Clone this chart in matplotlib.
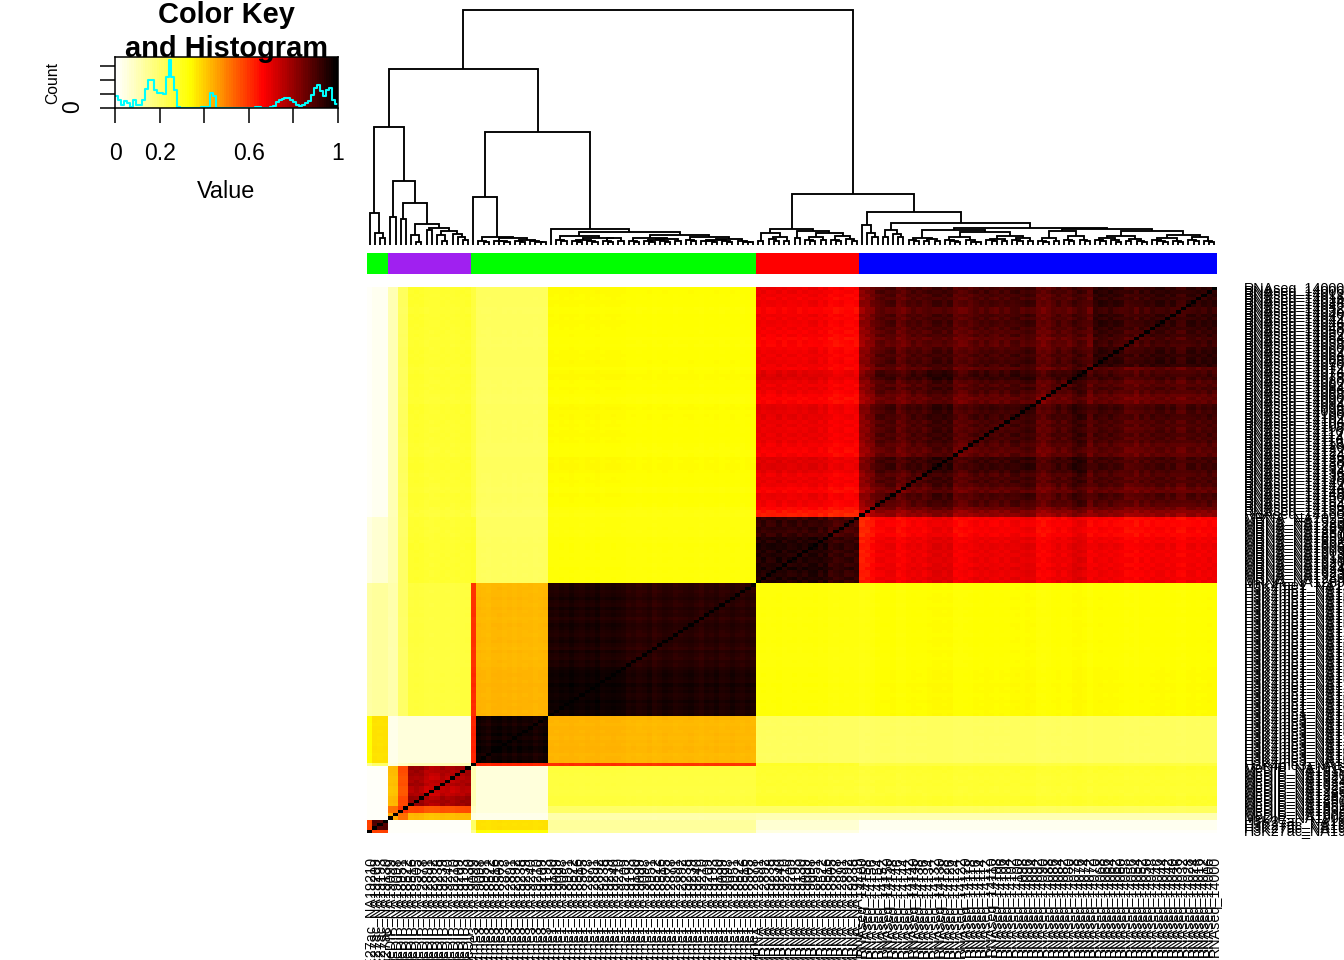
import numpy as np
import matplotlib
matplotlib.use("Agg")
import matplotlib.pyplot as plt
from matplotlib.colors import LinearSegmentedColormap, ListedColormap

plt.rcParams['font.family'] = ['Liberation Sans', 'DejaVu Sans']
W, H = 1344, 960

# ---------------- data ----------------
segment_sizes = [1, 3, 2, 2, 12, 1, 14, 40, 20, 69]
# similarity level of each pair of sample segments
levels = [
    [1.00, .58, .01, .01, .01, .15, .33, .12, .04, .01],
    [.58, .88, .01, .01, .01, .20, .37, .13, .06, .02],
    [.01, .01, .45, .52, .42, .04, .03, .11, .10, .10],
    [.01, .01, .52, .60, .56, .08, .05, .20, .20, .21],
    [.01, .01, .42, .56, .76, .10, .05, .25, .27, .27],
    [.15, .20, .04, .08, .10, 1.0, .62, .60, .28, .25],
    [.33, .37, .03, .05, .05, .62, .97, .425, .21, .21],
    [.12, .13, .11, .20, .25, .60, .425, .94, .32, .33],
    [.04, .06, .10, .20, .27, .28, .21, .32, .92, .675],
    [.01, .02, .10, .21, .27, .25, .21, .33, .675, .885],
]
tint_A = [0, .01, 0, .01]
tint_B = [-.01, 0, 0, 0, .03, .04, .03, -.02, -.03, -.02, .01, 0, -.01, .01, .02, .03]
tint_C = [0]
tint_D = [.01, 0, -.01, .01, .015, 0, .01, -.005, .01, 0, .005, -.01, 0, .01]
tint_E = [.02, .015, .025, .02, .03, .02, .015, .025, .02, .03, .015, .02, .025, .02, .015,
          .0, .005, -.005, .0, .01, -.01, .0, .01, .005, -.005, .0, .005, .01, .0, -.01,
          .005, .0, .01, -.005, .0, .01, .0, -.005, .005, .0]
tint_F = [.01, .015, .005, .01, .02, .005, .01, .015, .005, .01, .015, .02, .005, .01,
          -.02, -.025, -.01, -.02, -.015, -.02]
tint_G = [-.10, -.08, -.05, -.01, 0, 0, .01, -.03, -.03, 0, .01, .005, 0, .02, .03, .03, .025, .03,
          -.02, -.025, -.015, -.01, .01, .005, .015, .01, 0, .01, .005, .02, .025, .015, .03, .02,
          -.03, -.035, -.025, 0, .01, -.005, 0, .03, .035, .02, -.02,
          .025, .03, .02, .025, .02, .01, -.01, 0, -.015, .01, .005, .015,
          .02, .025, .015, .02, 0, -.005, .02, .025, .015, .02, .03, .025]
block_AB = [0] * 20
block_CD = [0] * 15
block_E = [.3] * 40
block_F = [1, 1, .9, 1, 1.1, 1, .9, 1, 1.1, 1, 1, .9, 1, 1.1, 1, 1, .9, 1, 1.1, 1]
block_G = [.5, .4, .5, .6, .5, .5, .4, .5, .6, .5, .5, .5, .4, .9, .9, .9, .9, .9,
           .5, .4, .5, .6, .5, .5, .4, .5, .6, .5, .5, .5, .4, .6, .5, .5, .4, .5,
           .6, .5, .5, .5, 1.0, 1.0, 1.0, 1.0, .5,
           -1, -1, -1, -1, -.9, -1, -1, -1.1, -1, -1, -1, -1, -1.1, -1, -1, -.9, -1, -1, -1, -1, -1.1, -1, -1, -1]
grain_AB = [0, 0, 0, 0, 0, 0, 0, 0, 1, -1, 1, 1, -1, -1, 1, -1, 1, 1, -1, 1]
grain_CDE = [0] * 55
grain_F = [1, -1, 1, 1, -1, 1, -1, -1, 1, -1, 1, 1, -1, 1, -1, 1, 1, -1, -1, 1]
grain_G = [1, -1, 1, -1, -1, 1, 1, -1, 1, 1, -1, 1, -1, -1, 1, 1, -1, 1, -1, 1, 1, -1, -1, 1, -1, 1, 1, -1, 1,
           -1, -1, 1, 1, 1, -1, 1, -1, -1, 1, -1, 1, 1, -1, -1, 1, -1, 1, 1, -1, 1, 1, -1, -1, 1, -1, 1, -1, 1, 1,
           -1, 1, -1, -1, 1, 1, -1, 1, -1, 1]

side_sizes = [4, 16, 55, 20, 69]
side_colors = ['#00FF00', '#A020F0', '#00FF00', '#FF0000', '#0000FF']

individuals = ['NA19210', 'NA19209', 'NA19193', 'NA19130', 'NA19099', 'NA19098', 'NA18951', 'NA18522',
               'NA18516', 'NA18505', 'NA12878', 'NA12891', 'NA12892', 'NA19238', 'NA19239', 'NA19240']
prefixes = ['H3K27ac', 'MeDIP', 'H3K4me3', 'H3K4me1', 'MRNA']
prefix_counts = [4, 16, 15, 40, 20]
rnaseq_ids = [14160, 14158, 14156, 14154, 14152, 14150, 14148, 14146, 14144, 14142, 14140, 14138, 14136,
              14134, 14132, 14130, 14128, 14126, 14124, 14122, 14120, 14118, 14116, 14114, 14112, 14110,
              14108, 14106, 14104, 14102, 14100, 14098, 14096, 14094, 14092, 14090, 14088, 14086, 14084,
              14082, 14080, 14078, 14076, 14074, 14072, 14070, 14068, 14066, 14064, 14062, 14060, 14058,
              14056, 14054, 14052, 14050, 14048, 14046, 14044, 14042, 14040, 14036, 14032, 14028, 14024,
              14016, 14012, 14006, 14000]

hist_counts = [.83, .6, .2, .47, .35, .07, .55, .25, .25, .6, 1.35, 2.0, 2.0, 1.3, 1.1, 1.05, 1.0, 2.25, 3.45,
               2.25, 1.3, .1, 0, 0, .02, .02, 0, .02, .02, .05, .05, .1, 1.1, .83, 0, 0, 0, 0, 0, 0, 0, 0,
               0, 0, 0, 0, .03, .1, .05, .03, .03, .03, .05, .12, .4, .6, .65, .7, .7, .6, .4, .25, .15, .2,
               .35, .5, .95, 1.45, 1.65, 1.2, .85, 1.3, 1.4, .6, .3]
key_ticks = [0, .2, .4, .6, .8, 1]
key_tick_labels = ['0', '0.2', '', '0.6', '', '1']


def lad(*hs):
    node = 0
    for h in reversed(hs):
        node = (h, 0, node)
    return node


tree_A = lad(32, 12, 7)
tree_B = (64, lad(28), (42, lad(26), (21, (9.5, 0, lad(3)),
          (16.5, lad(15), (13.5, lad(10, 4), lad(11, 8, 5))))))
tree_D = (7.5, lad(3.5, 3), (6.5, lad(4, 3.5, 3), (4.5, lad(3.5, 3), lad(3.5, 3, 2.5))))
tree_E = (16, 0, (13,
    (9, lad(4.5, 3.5), (6.5, (5, lad(3.5, 3), lad(3.5, 2.5)), (7, lad(3.5, 3), lad(4)))),
    (10, (7, lad(4, 3), (5.5, (5, lad(3.5, 3), lad(4, 3)), lad(4))),
         (7.5, lad(4.5, 3.5), (6, (5, lad(4, 3.5, 3), lad(3.5, 3)), lad(4, 3, 2.5))))))
tree_F = (16, (12, lad(4), (8, lad(6, 4), lad(4))),
          (14, lad(7), (12, (8, lad(5, 4), lad(4.5)), (9, lad(5, 3.5), lad(6, 4)))))
g7 = (7, lad(5, 4), (5.5, lad(3.5), lad(4)))
g8 = (8, lad(5, 3.5, 3), lad(4.5, 3, 2.5))
g10 = (9, (6, lad(5, 4), lad(4)), (6.5, lad(4.5, 3.5), lad(4)))
g5 = (7, lad(4, 3), lad(4))
g6 = (8.5, lad(4.5, 3.5), lad(5, 3.5))
g11 = (9, (6.5, lad(4.5, 3.5), lad(5, 3)), (6, lad(3.5), lad(4, 3)))
g13 = (10, (7, lad(5, 4, 3), lad(4, 3)), (7.5, lad(4.5, 3.5), lad(4, 3)))
tree_G = (33, lad(20, 12, 8), (21.7, (15, lad(8), lad(11, 8)),
          (17.3, (15, g7, (13, g8, g10)), (15.5, (14, g5, g6), (13.5, g11, g13)))))
tree_all = (235, (176, (118, tree_A, tree_B), (113, (48, 0, tree_D), tree_E)), (51, tree_F, tree_G))

# ---------------- derived ----------------
n = sum(segment_sizes)
seg = np.repeat(np.arange(len(segment_sizes)), segment_sizes)
base = np.array(levels)[np.ix_(seg, seg)]
a = np.array(tint_A + tint_B + tint_C + tint_D + tint_E + tint_F + tint_G)
b = np.array(block_AB + block_CD + block_E + block_F + block_G)
c = np.array(grain_AB + grain_CDE + grain_F + grain_G)
assert len(a) == n and len(b) == n and len(c) == n, (len(a), len(b), len(c), n)
w = np.clip(base, 0, 1) ** 1.5
M = base + w * (a[:, None] + a[None, :] + .018 * b[:, None] * b[None, :] + .012 * c[:, None] * c[None, :])
M = np.clip(M, 0, 1)
np.fill_diagonal(M, 1)

heat = LinearSegmentedColormap.from_list('wyrk', ['#FFFFFF', '#FFFF00', '#FF0000', '#000000'], N=256)

prefix_of = np.repeat(prefixes, prefix_counts)
col_labels = [f"{p}_{individuals[i % len(individuals)]}" for i, p in enumerate(prefix_of)]
col_labels += [f"RNAseq_{v}" for v in rnaseq_ids]
assert len(col_labels) == n

fig = plt.figure(figsize=(W / 100, H / 100), dpi=100)


def px_axes(x0, y0, x1, y1):
    return fig.add_axes([x0 / W, 1 - y1 / H, (x1 - x0) / W, (y1 - y0) / H])


# ---------------- heatmap ----------------
ax = px_axes(367, 287, 1217, 833)
ax.imshow(M, origin='lower', cmap=heat, vmin=0, vmax=1, aspect='auto',
          interpolation='nearest', extent=(0, n, 0, n))
for s in ax.spines.values():
    s.set_visible(False)
ax.set_xticks(np.arange(n) + .5)
ax.set_xticklabels(col_labels, rotation=90, fontsize=10.4, ha='center', va='top')
ax.yaxis.tick_right()
ax.set_yticks(np.arange(n) + .5)
ax.set_yticklabels(col_labels, fontsize=10.4, va='center', ha='left')
ax.tick_params(axis='x', length=0, pad=16.5)
ax.tick_params(axis='y', length=0, pad=19.5)

# ---------------- side colours ----------------
sx = px_axes(367, 253, 1217, 274)
codes = np.repeat(np.arange(len(side_sizes)), side_sizes)[None, :]
sx.imshow(codes, cmap=ListedColormap(side_colors), aspect='auto', interpolation='nearest',
          extent=(0, n, 0, 1), vmin=-.5, vmax=len(side_sizes) - .5)
sx.axis('off')

# ---------------- dendrogram ----------------
dx = px_axes(367, 5, 1217, 245)
counter = [0]


def draw(node):
    if node == 0:
        x = counter[0] + .5
        counter[0] += 1
        return x, 0.0
    h, l, r = node
    xl, hl = draw(l)
    xr, hr = draw(r)
    dx.plot([xl, xl, xr, xr], [hl, h, h, hr], color='black', lw=1.35,
            solid_joinstyle='miter', solid_capstyle='butt', clip_on=False)
    return (xl + xr) / 2, h


draw(tree_all)
assert counter[0] == n, counter
dx.set_xlim(0, n)
dx.set_ylim(0, 240)
dx.axis('off')

# ---------------- colour key ----------------
kx = px_axes(115, 57, 338, 108)
grad = np.linspace(0, 1, 96)[None, :]
ymax = 51 / 14
kx.imshow(grad, cmap=heat, vmin=0, vmax=1, aspect='auto', interpolation='nearest',
          extent=(0, 1, 0, ymax))
edges = np.linspace(0, 1, len(hist_counts) + 1)
kx.step(edges, list(hist_counts) + [hist_counts[-1]], where='post', color='#00FFFF', lw=1.5)
kx.set_xlim(0, 1)
kx.set_ylim(0, ymax)
kx.set_xticks(key_ticks)
kx.set_xticklabels(key_tick_labels, fontsize=16.6)
kx.tick_params(axis='x', length=10.8, width=1.1, pad=14)
kx.set_yticks([0, 1, 2, 3])
kx.set_yticklabels(['', '', '', ''])
kx.tick_params(axis='y', length=10.8, width=1.1)
for s in kx.spines.values():
    s.set_linewidth(1.1)

fig.text(226 / W, 1 - 191.5 / H, 'Value', fontsize=16.8, ha='center', va='center')
fig.text(53 / W, 1 - 83 / H, 'Count', fontsize=11.3, rotation=90, ha='center', va='center')
fig.text(73 / W, 1 - 107 / H, '0', fontsize=16.6, rotation=90, ha='center', va='center')
t1 = fig.text(226 / W, 1 - 23 / H, 'Color Key', fontsize=20.9, fontweight='bold', ha='center', va='baseline')
t2 = fig.text(226 / W, 1 - 57 / H, 'and Histogram', fontsize=20.9, fontweight='bold', ha='center', va='baseline')
t1.set_zorder(10)
t2.set_zorder(10)

fig.savefig('out.png', dpi=100)
